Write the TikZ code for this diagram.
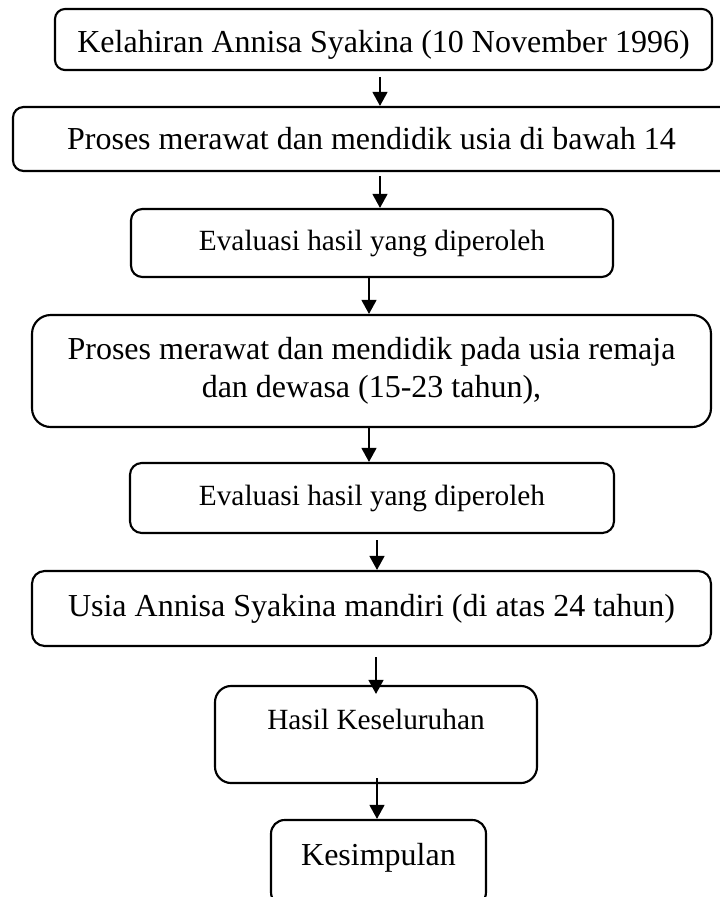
\documentclass[tikz,border=0pt]{standalone}
\usepackage{fontspec}
\setmainfont{Liberation Serif}
\usetikzlibrary{arrows.meta}

\begin{document}
\begin{tikzpicture}[
  x=0.375pt, y=-0.375pt,
  box/.style={draw, line width=0.8pt, rounded corners=#1, inner sep=0pt, align=center, font=\fontsize{12}{14.25}\selectfont},
  smallbox/.style={box=#1, font=\fontsize{11}{13}\selectfont},
  arr/.style={-{Triangle[length=5.3pt, width=5.6pt]}, line width=0.75pt}
]
\useasboundingbox (0,0) rectangle (720,897);
\clip (0,0) rectangle (720,897);
\node[box=3.8pt, minimum width=246.4pt, minimum height=22.9pt, text height=12.1pt] (birth) at (383.5,39.5) {Kelahiran Annisa Syakina (10 November 1996)};
\node[box=4pt, minimum width=268.9pt, minimum height=24pt] (child) at (371.5,139) {Proses merawat dan mendidik usia di bawah 14};
\node[smallbox=4.25pt, minimum width=180.75pt, minimum height=25.5pt] (evalA) at (372,243) {Evaluasi hasil yang diperoleh};
\node[box=7pt, minimum width=254.6pt, minimum height=42pt] (teen) at (371.5,371) {Proses merawat dan mendidik pada usia remaja\\dan dewasa (15-23 tahun),};
\node[smallbox=4.4pt, minimum width=181.5pt, minimum height=26.25pt] (evalB) at (372,498) {Evaluasi hasil yang diperoleh};
\node[box=4.7pt, minimum width=254.6pt, minimum height=28.1pt] (adult) at (371.5,608.5) {Usia Annisa Syakina mandiri (di atas 24 tahun)};
\node[smallbox=6.1pt, minimum width=120.75pt, minimum height=36.4pt, text depth=11.1pt] (result) at (376,734.5) {Hasil Keseluruhan};
\node[box=5.1pt, minimum width=80.6pt, minimum height=32.25pt, text depth=6.3pt] (concl) at (378.5,863) {Kesimpulan};
\draw[arr, shorten <=2.25pt] (birth.south -| 380,0) -- (child.north -| 380,0);
\draw[arr, shorten <=1.5pt] (child.south -| 380,0) -- (evalA.north -| 380,0);
\draw[arr] (evalA.south -| 369,0) -- (teen.north -| 369,0);
\draw[arr] (teen.south -| 369,0) -- (evalB.north -| 369,0);
\draw[arr, shorten <=2.25pt] (evalB.south -| 377,0) -- (adult.north -| 377,0);
\draw[arr, shorten <=3.75pt, shorten >=-3.4pt] (adult.south -| 376,0) -- (result.north -| 376,0);
\draw[arr, shorten <=-2.25pt] (result.south -| 377,0) -- (concl.north -| 377,0);
\end{tikzpicture}
\end{document}
